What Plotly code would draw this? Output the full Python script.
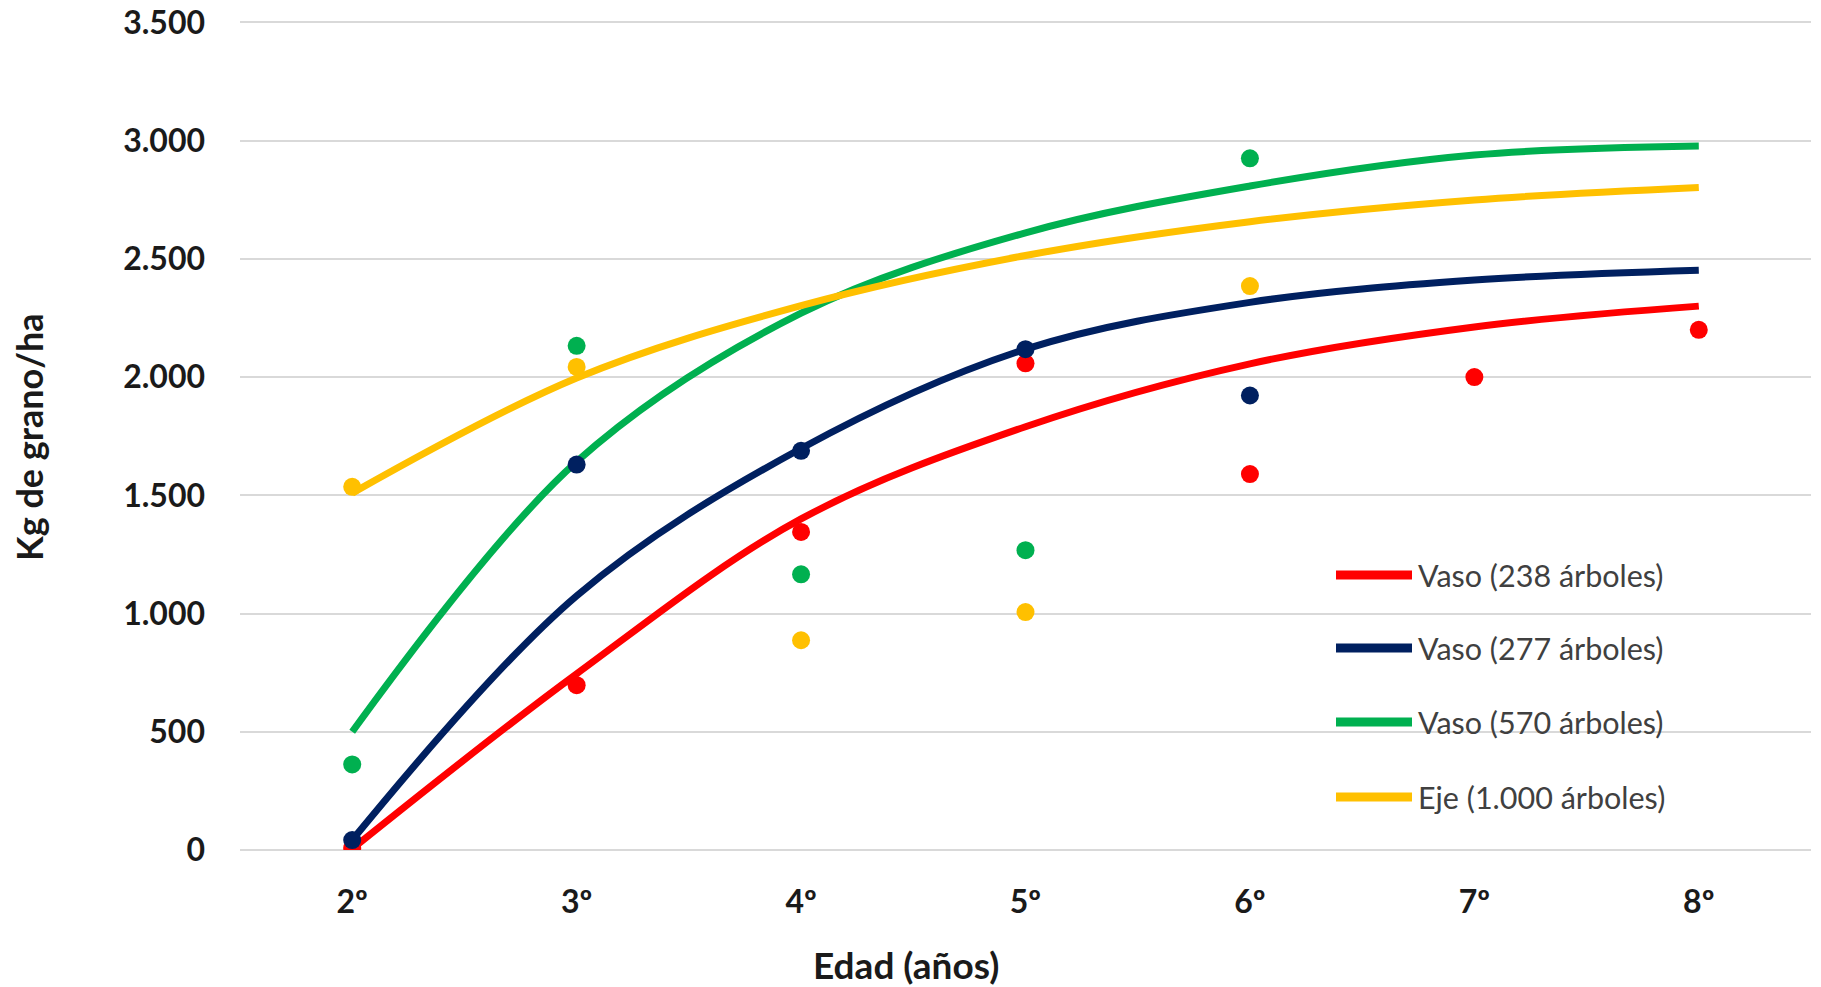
import plotly.graph_objects as go

# ---------------- data ----------------
edad = ["2º", "3º", "4º", "5º", "6º", "7º", "8º"]

# observed yields (points)
vaso238_obs = [8, 697, 1345, 2058, 1590, 2000, 2200]
vaso277_obs = [42, 1630, 1688, 2118, 1922]
vaso570_obs = [362, 2132, 1166, 1268, 2925]
eje1000_obs = [1536, 2043, 887, 1006, 2385]

# fitted trend curves (values read at each age)
vaso238_fit = [5, 745, 1400, 1790, 2056, 2212, 2300]
vaso277_fit = [42, 1075, 1698, 2118, 2316, 2410, 2452]
vaso570_fit = [500, 1642, 2270, 2610, 2808, 2939, 2977]
eje1000_fit = [1509, 1996, 2302, 2514, 2657, 2749, 2802]

series_names = ["Vaso (238 árboles)", "Vaso (277 árboles)",
                "Vaso (570 árboles)", "Eje (1.000 árboles)"]
colors = ["#FF0000", "#002060", "#00B050", "#FFC000"]

y_tickvals = [0, 500, 1000, 1500, 2000, 2500, 3000, 3500]
y_ticktext = ["0", "500", "1.000", "1.500", "2.000", "2.500", "3.000", "3.500"]

obs = [vaso238_obs, vaso277_obs, vaso570_obs, eje1000_obs]
fits = [vaso238_fit, vaso277_fit, vaso570_fit, eje1000_fit]

# ---------------- layout constants ----------------
W, H = 1821, 987
L, R, T, B = 240, 10, 20, 137
PW, PH = W - L - R, H - T - B
FONT = "Lato"

# helpers: page pixel -> paper fraction
def px_x(px):
    return (px - L) / PW

def px_y(py):
    return (H - B - py) / PH

fig = go.Figure()

for name, col, f in zip(series_names, colors, fits):
    fig.add_trace(go.Scatter(
        x=edad[:len(f)], y=f, mode="lines", name=name,
        line=dict(color=col, width=7, shape="spline", smoothing=1.0),
        showlegend=False, hoverinfo="skip"))

for name, col, o in zip(series_names, colors, obs):
    fig.add_trace(go.Scatter(
        x=edad[:len(o)], y=o, mode="markers", name=name,
        marker=dict(color=col, size=18, line=dict(width=0)),
        showlegend=False))

# custom legend (long line samples like the original)
shapes = []
annotations = []
leg_y = [575, 648, 722, 797]
for name, col, ly in zip(series_names, colors, leg_y):
    shapes.append(dict(type="line", xref="paper", yref="paper",
                       x0=px_x(1336), x1=px_x(1412), y0=px_y(ly), y1=px_y(ly),
                       line=dict(color=col, width=9)))
    annotations.append(dict(text=name, xref="paper", yref="paper",
                            x=px_x(1416), y=px_y(ly), xanchor="left", yanchor="middle",
                            showarrow=False,
                            font=dict(family=FONT, size=30.5, color="#404040")))

annotations.append(dict(text="<b>Edad (años)</b>", xref="paper", yref="paper",
                        x=px_x(906), y=px_y(964), xanchor="center", yanchor="middle",
                        showarrow=False, font=dict(family=FONT, size=37, color="#1a1a1a")))
annotations.append(dict(text="<b>Kg de grano/ha</b>", xref="paper", yref="paper",
                        x=px_x(29), y=px_y(437), xanchor="center", yanchor="middle",
                        textangle=-90, showarrow=False,
                        font=dict(family=FONT, size=36, color="#1a1a1a")))

fig.update_layout(
    width=W, height=H,
    margin=dict(l=L, r=R, t=T, b=B, autoexpand=False),
    paper_bgcolor="white", plot_bgcolor="white",
    shapes=shapes, annotations=annotations,
    showlegend=False,
    font=dict(family=FONT, color="#1a1a1a"),
)
fig.update_xaxes(
    type="category", categoryorder="array", categoryarray=edad,
    range=[-0.5, 6.5], showgrid=False, showline=False, zeroline=False,
    ticks="", ticklabelstandoff=30, automargin=False,
    tickfont=dict(family=FONT, size=32, color="#1a1a1a", weight="bold"),
)
fig.update_yaxes(
    range=[0, 3510], tickvals=y_tickvals, ticktext=y_ticktext,
    showgrid=True, gridcolor="#d9d9d9", gridwidth=1.5,
    zeroline=True, zerolinecolor="#d9d9d9", zerolinewidth=1.5,
    showline=False, ticks="", ticklabelstandoff=34,
    ticklabeloverflow="allow", automargin=False,
    tickfont=dict(family=FONT, size=32, color="#1a1a1a", weight="bold"),
)

fig.write_html(
    "out.html",
    config={"displayModeBar": False},
    post_script="document.body.style.margin='0';document.body.style.overflow='hidden';",
)
